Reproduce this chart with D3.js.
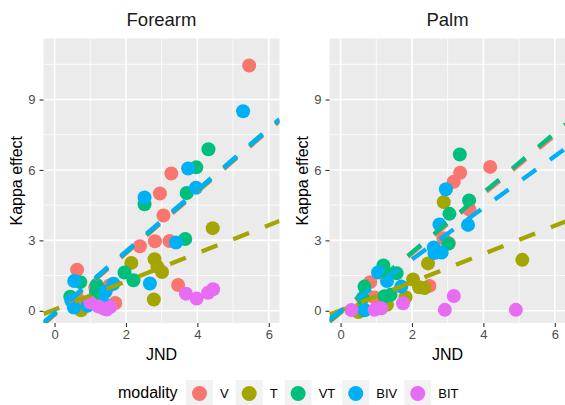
<!DOCTYPE html>
<html>
<head>
<meta charset="utf-8">
<script src="https://cdn.jsdelivr.net/npm/d3@7"></script>
<style>
body { margin: 0; background: #fff; }
text { font-family: "Liberation Sans", Arial, sans-serif; }
</style>
</head>
<body>
<script>
var modalities = ["V", "T", "VT", "BIV", "BIT"];
var colours = ["#F8766D", "#A3A500", "#00BF7D", "#00B0F6", "#E76BF3"];
var panelNames = ["Forearm", "Palm"];
var xTicks = [0, 2, 4, 6];
var yTicks = [0, 3, 6, 9];
var xMinor = [1, 3, 5];
var yMinor = [1.5, 4.5, 7.5, 10.5];

// JND, kappa effect per modality
var forearmV = [[5.45, 10.45], [3.27, 5.85], [2.95, 5.0], [3.05, 4.06], [2.39, 2.75], [2.81, 2.96], [3.22, 2.97], [3.46, 1.1], [0.63, 1.75], [1.14, 0.99], [1.54, 1.08], [1.7, 0.33], [0.67, 0.47]];
var forearmT = [[4.43, 3.52], [2.15, 2.04], [2.8, 2.2], [2.88, 1.88], [3.01, 1.65], [2.78, 0.48], [0.74, 0.02], [0.95, 0.35], [1.3, 0.62]];
var forearmVT = [[4.31, 6.88], [3.97, 6.11], [2.52, 4.54], [3.7, 5.02], [3.66, 3.06], [1.96, 1.63], [2.21, 1.3], [0.72, 1.22], [1.18, 1.1], [1.16, 0.79], [0.44, 0.6]];
var forearmBIV = [[5.28, 8.5], [3.74, 6.06], [2.52, 4.83], [3.96, 5.24], [3.4, 2.91], [2.67, 1.16], [0.55, 1.27], [1.65, 1.15], [1.43, 0.82], [0.47, 0.43], [0.54, 0.14], [0.92, 0.21], [1.37, 0.33]];
var forearmBIT = [[3.68, 0.73], [3.98, 0.52], [4.3, 0.77], [4.44, 0.92], [1.0, 0.35], [1.23, 0.18], [1.38, 0.1], [1.56, 0.16], [1.46, 0.05]];

var palmV = [[3.35, 5.88], [3.17, 5.5], [4.19, 6.13], [3.61, 4.31], [2.88, 3.09], [3.03, 2.88], [0.83, 1.22], [2.49, 1.06], [0.95, 0.57]];
var palmT = [[2.89, 4.63], [2.45, 2.02], [5.09, 2.17], [2.03, 1.33], [2.2, 1.0], [2.35, 0.97], [1.82, 0.58], [0.5, -0.05], [1.3, 0.26], [0.58, 0.11]];
var palmVT = [[3.34, 6.66], [3.6, 4.7], [3.05, 4.13], [3.02, 2.86], [1.2, 1.93], [1.57, 1.6], [0.67, 1.03], [1.4, 0.68], [0.62, 0.54], [0.67, 0.02], [1.23, 0.62]];
var palmBIV = [[2.95, 5.18], [2.77, 3.68], [3.57, 3.66], [2.61, 2.7], [2.83, 2.48], [2.63, 2.46], [1.05, 1.63], [1.3, 1.27], [1.7, 1.03], [0.67, 0.04]];
var palmBIT = [[3.17, 0.63], [2.92, 0.04], [4.91, 0.04], [1.75, 0.32], [1.14, 0.11], [0.95, 0.04], [0.3, 0.03]];

// fitted lines [slope, intercept] for V, T, VT, BIV
var forearmFits = [[1.31, -0.17], [0.6, 0.05], [1.31, -0.13], [1.31, -0.09]];
var palmFits = [[1.26, -0.08], [0.6, 0.02], [1.27, -0.05], [1.1, -0.01]];

var panels = [
	{ name: panelNames[0], points: [forearmV, forearmT, forearmVT, forearmBIV, forearmBIT], fits: forearmFits, left: 43.5 },
	{ name: panelNames[1], points: [palmV, palmT, palmVT, palmBIV, palmBIT], fits: palmFits, left: 329.5 }
];

var width = 565, height = 405;
var panelW = 236, panelTop = 38.5, panelBottom = 323;

var svg = d3.select("body").append("svg")
	.attr("width", width)
	.attr("height", height);

var y = d3.scaleLinear().domain([-0.52, 11.6]).range([panelBottom, panelTop]);

panels.forEach(function(p, i) {
	var x = d3.scaleLinear().domain([-0.31, 6.3]).range([p.left, p.left + panelW]);
	var g = svg.append("g");

	g.append("clipPath").attr("id", "clip" + i)
		.append("rect")
		.attr("x", p.left).attr("y", panelTop)
		.attr("width", panelW).attr("height", panelBottom - panelTop);

	g.append("rect")
		.attr("x", p.left).attr("y", panelTop)
		.attr("width", panelW).attr("height", panelBottom - panelTop)
		.attr("fill", "#EBEBEB");

	// grid
	g.selectAll(".ymin").data(yMinor).enter().append("line")
		.attr("x1", p.left).attr("x2", p.left + panelW)
		.attr("y1", function(d) { return y(d); }).attr("y2", function(d) { return y(d); })
		.attr("stroke", "#fff").attr("stroke-width", 0.8);
	g.selectAll(".xmin").data(xMinor).enter().append("line")
		.attr("y1", panelTop).attr("y2", panelBottom)
		.attr("x1", function(d) { return x(d); }).attr("x2", function(d) { return x(d); })
		.attr("stroke", "#fff").attr("stroke-width", 0.8);
	g.selectAll(".ymaj").data(yTicks).enter().append("line")
		.attr("x1", p.left).attr("x2", p.left + panelW)
		.attr("y1", function(d) { return y(d); }).attr("y2", function(d) { return y(d); })
		.attr("stroke", "#fff").attr("stroke-width", 1.6);
	g.selectAll(".xmaj").data(xTicks).enter().append("line")
		.attr("y1", panelTop).attr("y2", panelBottom)
		.attr("x1", function(d) { return x(d); }).attr("x2", function(d) { return x(d); })
		.attr("stroke", "#fff").attr("stroke-width", 1.6);

	// points
	var plot = g.append("g").attr("clip-path", "url(#clip" + i + ")");
	p.points.forEach(function(pts, k) {
		plot.selectAll(".pt" + k).data(pts).enter().append("circle")
			.attr("cx", function(d) { return x(d[0]); })
			.attr("cy", function(d) { return y(d[1]); })
			.attr("r", 7)
			.attr("fill", colours[k]);
	});

	// regression lines
	var dom = x.domain();
	p.fits.forEach(function(f, k) {
		plot.append("line")
			.attr("x1", x(dom[0])).attr("y1", y(f[0] * dom[0] + f[1]))
			.attr("x2", x(dom[1])).attr("y2", y(f[0] * dom[1] + f[1]))
			.attr("stroke", colours[k])
			.attr("stroke-width", 4.3)
			.attr("stroke-dasharray", "17,17");
	});

	// axes
	var xAxis = g.append("g").attr("transform", "translate(0," + panelBottom + ")")
		.call(d3.axisBottom(x).tickValues(xTicks).tickFormat(d3.format("d")).tickSize(4).tickPadding(3));
	var yAxis = g.append("g").attr("transform", "translate(" + p.left + ",0)")
		.call(d3.axisLeft(y).tickValues(yTicks).tickFormat(d3.format("d")).tickSize(4).tickPadding(4));
	[xAxis, yAxis].forEach(function(a) {
		a.select(".domain").remove();
		a.selectAll(".tick line").attr("stroke", "#333333").attr("stroke-width", 1.1);
		a.selectAll(".tick text").attr("fill", "#4D4D4D")
			.style("font-size", "13px")
			.style("font-family", "'Liberation Sans', Arial, sans-serif");
	});

	g.append("text")
		.attr("x", p.left + panelW / 2).attr("y", 26)
		.attr("text-anchor", "middle")
		.style("font-size", "18.5px")
		.attr("fill", "#1A1A1A")
		.text(p.name);

	g.append("text")
		.attr("x", p.left + panelW / 2).attr("y", 360)
		.attr("text-anchor", "middle")
		.style("font-size", "16px")
		.text("JND");

	g.append("text")
		.attr("transform", "translate(" + (p.left - 21.5) + "," + ((panelTop + panelBottom) / 2) + ") rotate(-90)")
		.attr("text-anchor", "middle")
		.style("font-size", "16px")
		.text("Kappa effect");
});

// legend
var legend = svg.append("g");
legend.append("text")
	.attr("x", 118).attr("y", 398)
	.style("font-size", "16px")
	.text("modality");

var kx = 186;
modalities.forEach(function(m, k) {
	legend.append("rect")
		.attr("x", kx).attr("y", 380)
		.attr("width", 27).attr("height", 27)
		.attr("fill", "#F2F2F2");
	legend.append("circle")
		.attr("cx", kx + 13.5).attr("cy", 393.5)
		.attr("r", 7.5)
		.attr("fill", colours[k]);
	var t = legend.append("text")
		.attr("x", kx + 34).attr("y", 398.3)
		.style("font-size", "13px")
		.text(m);
	kx = kx + 34 + t.node().getComputedTextLength() + 7;
});
</script>
</body>
</html>
